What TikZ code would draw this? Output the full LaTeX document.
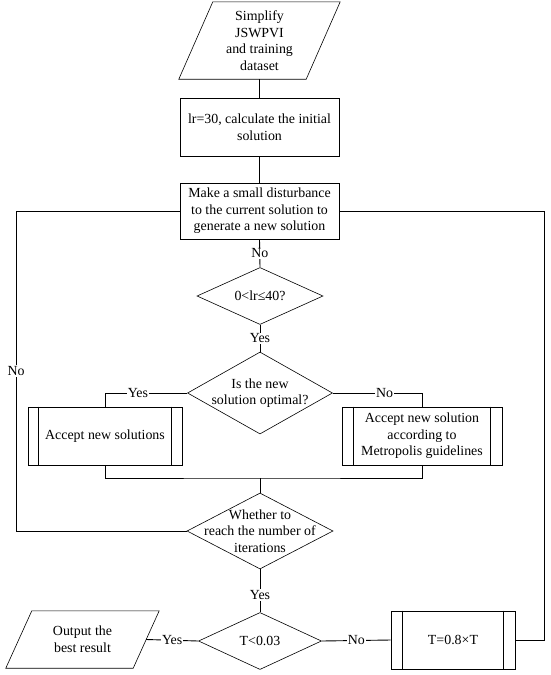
\documentclass[tikz,border=0pt]{standalone}
\usepackage{fontspec}
\setmainfont{Liberation Serif}
\usepackage{tikz}
\usetikzlibrary{shapes.geometric}

\tikzset{
  every node/.style={font=\fontsize{13.9}{16.6}\selectfont},
  box/.style={draw, rectangle, align=center, line width=0.6pt},
  dec/.style={draw, diamond, inner sep=0pt, line width=0.6pt},
  io/.style={rectangle, align=center, inner sep=0pt},
  lab/.style={fill=white, inner sep=1pt},
  link/.style={line width=0.9pt}
}

\begin{document}
\begin{tikzpicture}[x=1pt,y=-1pt]
\useasboundingbox (0,0) rectangle (550,675);
\node[io, minimum width=161pt, minimum height=77pt] (start) at (259.5,40.5) {Simplify\\JSWPVI\\and training\\dataset};
\draw[line width=0.6pt] ([xshift=34pt]start.north west) -- (start.north east) -- ([xshift=-34pt]start.south east) -- (start.south west) -- cycle;
\node[box, minimum width=159pt, minimum height=58pt] (init) at (259.5,127) {lr=30, calculate the initial\\solution};
\node[box, minimum width=159pt, minimum height=56pt] (disturb) at (259.5,211) {Make a small disturbance\\to the current solution to\\generate a new solution};
\node[dec, minimum width=126pt, minimum height=57pt, label={center:0<lr≤40?}] (range) at (260,296) {};
\node[dec, minimum width=145pt, minimum height=82pt, label={[align=center]center:Is the new\\solution optimal?}] (optimal) at (260,393) {};
\node[box, minimum width=154pt, minimum height=58pt] (acceptL) at (105,436) {Accept new solutions};
\draw[line width=0.6pt] ([xshift=11pt]acceptL.north west) -- ([xshift=11pt]acceptL.south west);
\draw[line width=0.6pt] ([xshift=-11pt]acceptL.north east) -- ([xshift=-11pt]acceptL.south east);
\node[box, minimum width=160pt, minimum height=58pt] (acceptR) at (422,436) {Accept new solution\\according to\\Metropolis guidelines};
\draw[line width=0.6pt] ([xshift=12pt]acceptR.north west) -- ([xshift=12pt]acceptR.south west);
\draw[line width=0.6pt] ([xshift=-12pt]acceptR.north east) -- ([xshift=-12pt]acceptR.south east);
\node[dec, minimum width=146pt, minimum height=76pt, label={[align=center]center:Whether to\\reach the number of\\iterations}] (iter) at (260,531) {};
\node[dec, minimum width=123pt, minimum height=57pt, label={center:T<0.03}] (temp) at (260,641) {};
\node[io, minimum width=153pt, minimum height=57pt] (output) at (82.5,639.5) {Output the\\best result};
\draw[line width=0.6pt] ([xshift=26pt]output.north west) -- (output.north east) -- ([xshift=-26pt]output.south east) -- (output.south west) -- cycle;
\node[box, minimum width=124pt, minimum height=58pt] (cool) at (453,640) {T=0.8×T};
\draw[line width=0.6pt] ([xshift=12pt]cool.north west) -- ([xshift=12pt]cool.south west);
\draw[line width=0.6pt] ([xshift=-12pt]cool.north east) -- ([xshift=-12pt]cool.south east);

\coordinate (merge) at (260,478);
\coordinate (leftrail) at (16,211);
\coordinate (rightrail) at (544,211);
\coordinate (outright) at ([xshift=-13pt]output.east);

\draw[link] (start.south) -- (init.north);
\draw[link] (init.south) -- (disturb.north);
\draw[link] (disturb.south) -- (range.north) node[lab, midway] {No};
\draw[link] (range.south) -- (optimal.north) node[lab, midway] {Yes};
\draw[link] (optimal.west) -| (acceptL.north) node[lab, pos=0.3] {Yes};
\draw[link] (optimal.east) -| (acceptR.north) node[lab, pos=0.29] {No};
\draw[link] (acceptL.south) |- (merge) -| (acceptR.south);
\draw[link] (merge) -- (iter.north);
\draw[link] (iter.west) -| (leftrail) node[lab, pos=0.75] {No} -- (disturb.west);
\draw[link] (iter.south) -- (temp.north) node[lab, pos=0.6] {Yes};
\draw[link] (temp.west) -- (outright) node[lab, midway] {Yes};
\draw[link] (temp.east) -- (cool.west) node[lab, midway] {No};
\draw[link] (cool.east) -| (rightrail) -- (disturb.east);
\end{tikzpicture}
\end{document}
